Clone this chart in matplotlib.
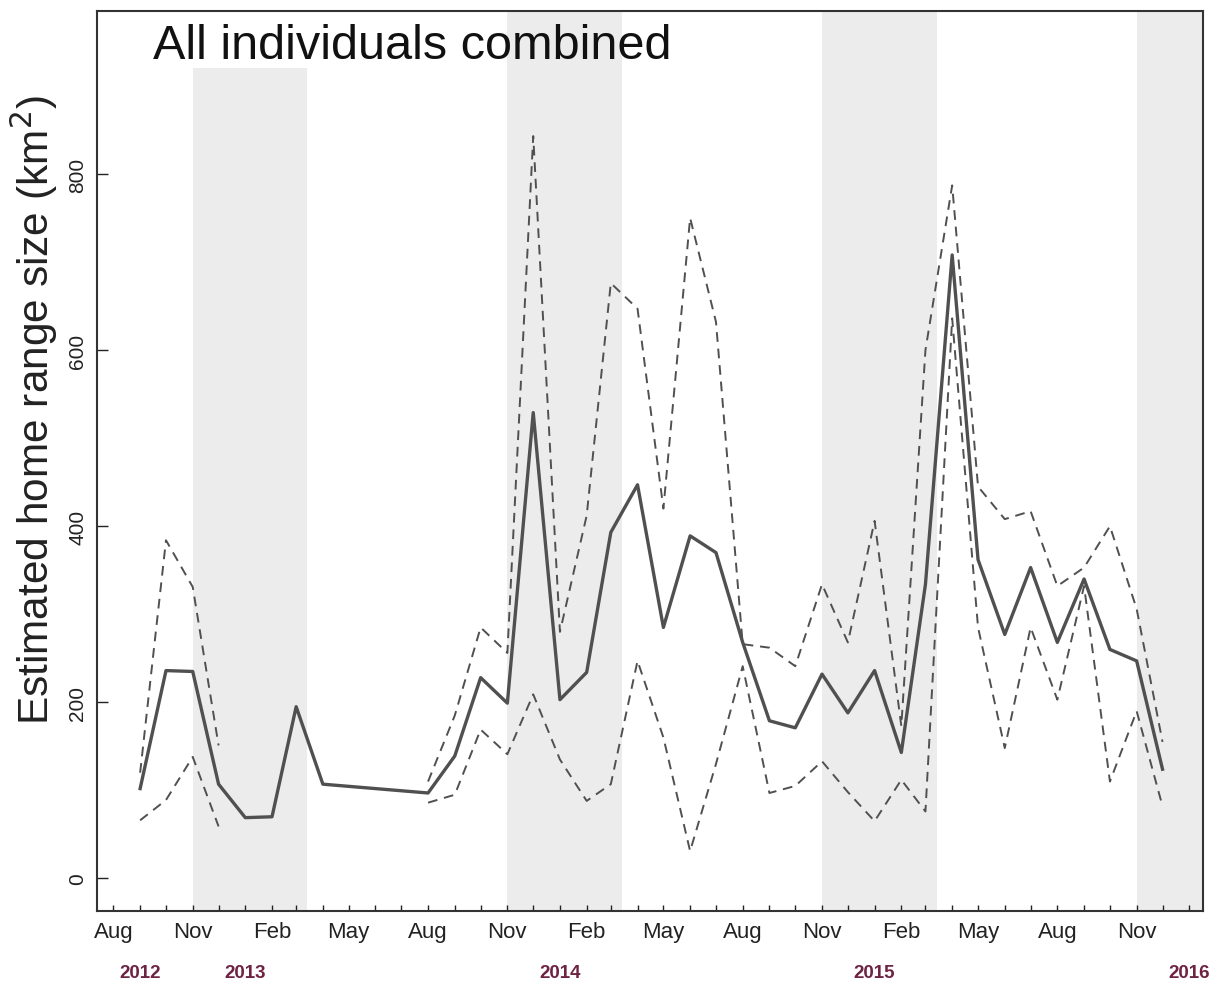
import numpy as np
import pandas as pd
import matplotlib
matplotlib.use("Agg")
import matplotlib.pyplot as plt
import matplotlib.dates as mdates
import matplotlib.transforms as mtransforms
from matplotlib.patches import Rectangle

plt.rcParams['font.family'] = ['Liberation Sans', 'DejaVu Sans']

# monthly estimates (first of month); no estimates May-Jul 2013
months = ['2012-09', '2012-10', '2012-11', '2012-12',
          '2013-01', '2013-02', '2013-03', '2013-04',
          '2013-08', '2013-09', '2013-10', '2013-11', '2013-12',
          '2014-01', '2014-02', '2014-03', '2014-04', '2014-05', '2014-06',
          '2014-07', '2014-08', '2014-09', '2014-10', '2014-11', '2014-12',
          '2015-01', '2015-02', '2015-03', '2015-04', '2015-05', '2015-06',
          '2015-07', '2015-08', '2015-09', '2015-10', '2015-11', '2015-12']

mean_hr = [102, 236, 235, 107, 69, 70, 195, 107,
           97, 139, 228, 199, 529,
           203, 234, 393, 447, 285, 389, 370, 268, 179, 171, 232, 188,
           236, 143, 334, 708, 362, 277, 353, 268, 340, 260, 247, 124]

nan = np.nan
upper_hr = [120, 384, 331, 151, nan, nan, nan, nan,
            110, 185, 285, 256, 843,
            280, 412, 676, 647, 420, 750, 632, 266, 262, 241, 334, 268,
            406, 173, 600, 787, 445, 408, 417, 332, 353, 400, 306, 155]

lower_hr = [66, 89, 138, 59, nan, nan, nan, nan,
            86, 95, 169, 141, 209,
            135, 88, 107, 247, 160, 31, 130, 241, 97, 105, 133, 98,
            65, 112, 76, 636, 285, 148, 285, 203, 332, 110, 190, 82]

# shaded seasons
band_start = ['2012-11-01', '2013-11-01', '2014-11-01', '2015-11-01']
band_end = ['2013-03-14', '2014-03-14', '2015-03-14', '2016-03-01']

year_labels = ['2012', '2013', '2014', '2015', '2016']
year_pos = ['2012-09-01', '2013-01-01', '2014-01-01', '2015-01-01', '2016-01-01']

dates = pd.to_datetime([m + '-01' for m in months])

fig = plt.figure(figsize=(12.19, 9.87), dpi=100)
ax = fig.add_axes([0.0796, 0.076, 0.9073, 0.9118])

for s, e in zip(band_start, band_end):
    ax.axvspan(pd.Timestamp(s), pd.Timestamp(e), color='#ececec', lw=0, zorder=0)

ax.plot(dates, upper_hr, color='#505050', lw=1.4, ls=(0, (5, 3.5)), zorder=2)
ax.plot(dates, lower_hr, color='#505050', lw=1.4, ls=(0, (5, 3.5)), zorder=2)
ax.plot(dates, mean_hr, color='#505050', lw=2.4, zorder=3)

ax.set_xlim(pd.Timestamp('2012-07-13'), pd.Timestamp('2016-01-17'))
ax.set_ylim(-37, 985)

ax.xaxis.set_major_locator(mdates.MonthLocator(bymonth=[2, 5, 8, 11]))
ax.xaxis.set_major_formatter(mdates.DateFormatter('%b'))
ax.xaxis.set_minor_locator(mdates.MonthLocator())
ax.set_yticks([0, 200, 400, 600, 800])

ax.tick_params(axis='x', which='both', direction='in', length=4, width=1,
               labelsize=16, pad=7, colors='#222222')
ax.tick_params(axis='y', direction='in', length=8, width=1, labelsize=15,
               pad=7, labelrotation=90, colors='#222222')
for lab in ax.get_yticklabels():
    lab.set_va('center')

for sp in ax.spines.values():
    sp.set_linewidth(1.5)
    sp.set_color('#333333')

ax.text(-0.057, 0.558, 'Estimated home range size (km$^2$)', transform=ax.transAxes,
        rotation=90, ha='center', va='center', fontsize=30.5, color='#222222')

# white patch behind the panel title (first season band only)
ax.add_patch(Rectangle((0.045, 0.937), 0.318, 0.063, transform=ax.transAxes,
                       facecolor='white', edgecolor='none', zorder=1))
ax.text(0.0506, 0.962, 'All individuals combined', transform=ax.transAxes,
        fontsize=35, ha='left', va='center', color='#111111', zorder=4)

trans = mtransforms.blended_transform_factory(ax.transData, ax.transAxes)
for lab, pos in zip(year_labels, year_pos):
    ax.text(pd.Timestamp(pos), -0.068, lab, transform=trans, ha='center', va='center',
            fontsize=13.5, fontweight='bold', color='#6e2343')

fig.savefig('out.png', dpi=100)
